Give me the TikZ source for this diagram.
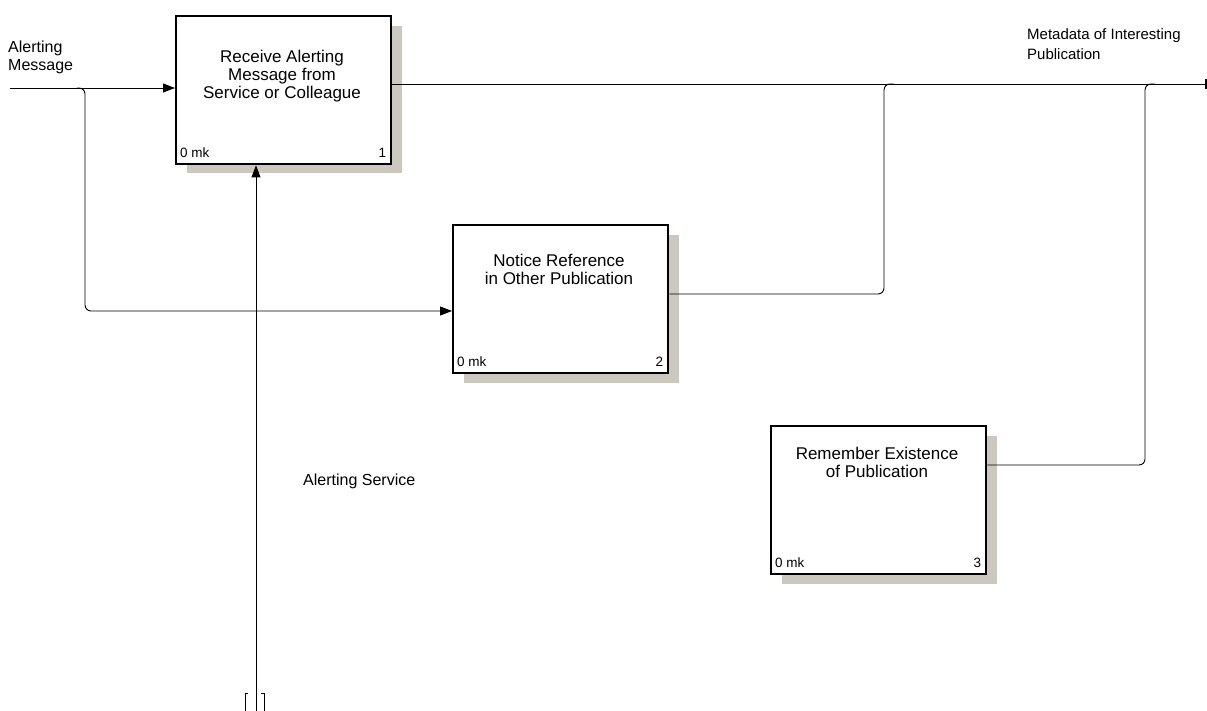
\documentclass[tikz,border=0pt]{standalone}
\usepackage{fontspec}
\setmainfont{Liberation Sans}
\usetikzlibrary{arrows.meta,calc}
\definecolor{shadowgray}{RGB}{204,200,192}
\tikzset{
  actbox/.style={draw=black,line width=2.4pt,fill=white,minimum width=215pt,minimum height=148pt,inner sep=0pt,anchor=north west},
  actshadow/.style={fill=shadowgray,draw=none},
  arrowline/.style={line width=0.9pt,-{Triangle[length=12pt,width=9pt]}},
  plainline/.style={line width=0.9pt},
  lbl/.style={font=\fontsize{16}{18}\selectfont,align=left,inner sep=0pt},
  boxtext/.style={font=\fontsize{17}{18}\selectfont,align=center,inner sep=0pt},
  foot/.style={font=\fontsize{13.5}{15}\selectfont,inner sep=0pt}
}
\begin{document}
\begin{tikzpicture}[x=1pt,y=-1pt]
\useasboundingbox (0,0) rectangle (1207,711);

% shadows behind the activity boxes
\fill[actshadow] (187,26) rectangle (402,173);
\fill[actshadow] (464,235) rectangle (679,383);
\fill[actshadow] (782,436) rectangle (997,584);

% activity boxes
\node[actbox] (b1) at (175,15) {};
\node[actbox] (b2) at (452,224) {};
\node[actbox] (b3) at (770,425) {};

\node[boxtext] (t1) at (282,76) {Receive Alerting\\Message from\\Service or Colleague};
\node[boxtext] (t2) at (559,269) {Notice Reference\\in Other Publication};
\node[boxtext] (t3) at (877,462) {Remember Existence\\of Publication};

\node[foot,anchor=base west] (m1) at ($(b1.south west)+(5,-8)$) {0 mk};
\node[foot,anchor=base east] (n1) at ($(b1.south east)+(-6,-8)$) {1};
\node[foot,anchor=base west] (m2) at ($(b2.south west)+(5,-8)$) {0 mk};
\node[foot,anchor=base east] (n2) at ($(b2.south east)+(-6,-8)$) {2};
\node[foot,anchor=base west] (m3) at ($(b3.south west)+(5,-8)$) {0 mk};
\node[foot,anchor=base east] (n3) at ($(b3.south east)+(-6,-8)$) {3};

% labels (anchor on the baseline of the last line)
\node[lbl,anchor=base west] (lam) at (8,71) {Alerting\\Message};
\node[lbl,anchor=base west,font=\fontsize{15}{20}\selectfont] (lmd) at (1027,60) {Metadata of Interesting\\Publication};
\node[lbl,anchor=base west] (las) at (303,485) {Alerting Service};

% input: alerting message
\coordinate (inA) at (10,88);
\coordinate (brA) at (85,88);
\coordinate (brB) at (85,311);
\draw[arrowline] (inA) -- (b1.west |- inA);
\draw[arrowline,rounded corners=6pt] ($(brA)+(-8,0)$) -- (brA) -- (brB) -- (b2.west |- brB);

% mechanism: alerting service (tunnelled)
\coordinate (mech) at (256,711);
\draw[arrowline] (mech) -- (b1.south -| mech);
\draw[plainline] (248,693) -- (245,693) -- (245,711);
\draw[plainline] (261,693) -- (264,693) -- (264,711);

% output: metadata of interesting publication
\coordinate (outE) at (1206,84);
\draw[plainline] (b1.east |- outE) -- (outE);
\draw[line width=1.2pt] ($(outE)+(0,-5)$) -- ($(outE)+(0,5)$);
\coordinate (j2) at (884,84);
\coordinate (j3) at (1145,84);
\draw[plainline,rounded corners=6pt] (b2.east |- 0,294) -- (884,294) -- (j2) -- ($(j2)+(10,0)$);
\draw[plainline,rounded corners=6pt] (b3.east |- 0,465) -- (1145,465) -- (j3) -- ($(j3)+(10,0)$);
\end{tikzpicture}
\end{document}
